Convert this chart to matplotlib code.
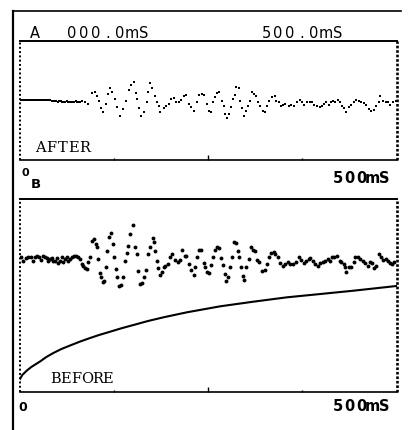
import numpy as np
import matplotlib.pyplot as plt
from matplotlib.lines import Line2D

W, H = 409, 431

# trace A (after): offset from baseline, time in ms
after_flat_t = np.arange(0, 81, 2)
after_flat_v = [1.5, 1.5, 1.5, 1.5, 1.5, 1.3, 1.3, 1.3, 1.3, 1.3, 1.3,
                1.0, 1.0, 1.0, 1.0, 1.0, 1.0, 1.0, 0.8, 0.8, 0.8, 0.5,
                0.5, 0.3, 0.0, -0.5, -0.3, 0.0, -0.5, -0.8, -0.5, -0.3,
                -0.5, -0.8, -1.0, -0.8, -0.5, -0.3, -0.5, -0.8, -0.5]
after_t = [82, 86.4, 90.8, 95.3, 99.7, 102.8, 105.5, 107.3, 110.8, 114.4,
           117.4, 119.7, 122.7, 126.3, 129.4, 133, 137.4, 141, 144.5, 147.6,
           151.6, 154, 156, 158, 160.5, 165, 168.5, 170.6, 172.5, 175.5,
           179.5, 181.8, 184, 186, 190.6, 193.7, 197.3, 200.8, 203.9, 207,
           210.5, 214, 217.2, 220.3, 223.9, 227, 230.5, 235, 238, 241.6,
           245, 247.8, 250.5, 253, 255.7, 258.4, 261, 264.6, 268.2, 270.9,
           272.6, 275.3, 278, 280.6, 282.8, 285, 287.2, 290.3, 292.6, 294.8,
           297.5, 300.1, 302.8, 305.4, 308.1, 311.2, 313.8, 316.5, 319.1, 322.2,
           324.9, 328, 331.1, 334.7, 338.2, 340.4, 343.5, 346.7, 349.3, 352.4,
           356.8, 360, 364.4, 368, 371.4, 374.6, 377.7, 381.2, 384.7, 387.9,
           391, 394.5, 398, 401.2, 403.3, 406.9, 410, 413.2, 415.8, 418.9,
           422, 425.5, 427.8, 430.9, 433.5, 436.6, 439.8, 443.3, 446.8, 449.9,
           453.1, 456.5, 460.1, 463.2, 466.4, 469.8, 473.4, 476.5, 478.7, 482.3,
           485.4, 488.4, 492, 495.6, 498.7]
after_v = [0.3, -1.3, -3, 8, 8.7, 5.3, 0.3, -7.3, -10.7, -3,
           7, 12.7, 9.3, 2, -6.3, -14.7, -8, 0.3, 11.3, 16,
           19.3, 8, 2, -7.3, -14.7, -10.7, -1.3, 8.7, 18, 12.7,
           5.3, -0.7, -5.3, -10.7, -7.3, -5.3, -3, 2, 2.7, -1.3,
           -1.3, 1.3, 5.3, 6, -3, -6.3, -9.7, -0.7, 6, 7,
           6, -3, -9.7, -10.7, -1.3, 3.7, 8, 8.7, 0.3, -5.3,
           -13, -17.3, -13, -6.3, 2, 6, 13.7, 12.7, 0.3, -7.3,
           -14.7, -9.7, -4.7, 0.3, 8.7, 7, 5.3, -1.3, -4.7, -9.7,
           -10.7, -4.7, 0.3, 3.7, 5.3, 0.3, -1.3, -5.3, -4, -3,
           -4.7, -4, -5.3, -1.3, 1.3, -1.3, -4, -1.3, -0.7, -1.3,
           -4, -4.7, -6.3, -4.7, -3, -1.3, -4, -1.3, 0.3, -0.7,
           1.3, -1.3, -4.7, -7.3, -10.7, -6.3, -4, -1.3, 1.3, 0.3,
           -1.3, -2, -4, -8, -9.7, -8.7, -4.7, -0.7, 5.3, 0.3,
           -1.3, -1.3, -4, -1.3, 0.3]

# trace B (before): sampled record
before_t = [1.3, 4.4, 8, 11, 14.2, 16.8, 20, 22.2, 25.7, 27.5,
            30.2, 33.2, 35.5, 37.6, 39.9, 42.2, 44.3, 46.5, 48.8, 50.9,
            53.2, 55.5, 57.6, 59.8, 62.1, 64.2, 66.5, 68.8, 71.8, 74.5,
            77.5, 79.8, 82, 84.2, 86.4, 88.7, 90.8, 93.1, 95.3, 98.4,
            101.1, 102.8, 104.1, 106.4, 108.1, 110, 111.7, 114.4, 116.1, 118.8,
            120.6, 123.3, 125, 127.7, 129.4, 132.1, 133.9, 136.6, 139.6, 141.9,
            144, 146.3, 149.9, 152.9, 155.2, 157.3, 159.6, 161.8, 164.9, 167.6,
            170.6, 172.9, 176, 177.3, 179.5, 181.8, 183.9, 186.2, 188.4, 190.6,
            192.8, 196.4, 199.5, 202.5, 206.1, 209.7, 212.8, 215.8, 218.5, 220.3,
            223.8, 227.4, 230.5, 232.7, 235, 237.1, 240.7, 243.8, 246, 248.3,
            251.3, 254, 255.7, 258.4, 261.5, 264.6, 267.3, 269, 271.7, 273.6,
            276.2, 279.3, 281.5, 283.7, 286.8, 289.5, 291.2, 293.9, 295.6, 297,
            300.1, 303.6, 307.2, 309, 311.6, 314.8, 317.8, 321.4, 324.9, 328,
            330.2, 333.8, 336.8, 339, 342.2, 345.7, 349.3, 352.4, 355.5, 359,
            362.6, 367, 370.1, 373.3, 376.7, 380.3, 383.4, 385.6, 389.2, 392.3,
            395.4, 398.9, 402.5, 405.6, 408.6, 411.3, 414.5, 417.5, 421.1, 424.6,
            426.5, 429.9, 432.2, 433.5, 436.6, 439.8, 443.2, 445.5, 448.5, 452.1,
            455.7, 458.8, 461.8, 464.5, 467.7, 470.7, 473.4, 476.5, 479.7, 482.3,
            485.4, 488.4, 491.1, 494.3, 497.3]
before_v = [0.7, -2.7, 0, 0.7, 0.7, -2.7, 1.3, 2.3, 0.7, -2,
            2.3, 1.3, 0, -2.7, -1, 0, -3.3, -2.7, 0, -5.3,
            -2.7, 0.7, -4.3, -1, 1.3, -2.7, -1, 0.7, 2.3, 2.3,
            1.3, -1, -6, -7.7, -10, -11, -4.3, 0.7, 17.3, 19,
            14, 10.7, -1, -15.3, -19.3, -24.3, -22.7, -8.7, 6.7, 20.7,
            24.7, 14, 1.3, -11, -19.3, -27.7, -26.7, -19.3, -2.7, 4.7,
            12.3, 24, 33, 10.7, 4, -12.7, -26, -25.3, -19.3, -12,
            4, 10.7, 20, 15.7, 6.7, -2.7, -10, -16.7, -14.3, -9.3,
            -7.7, -6, 0.7, 4, -2, -4.3, -2, 8, 2.3, 2.3,
            -6, -12, -16.7, -8.7, 1.3, 8, 8, -5.3, -9.3, -14.3,
            -15.3, -6.7, 1.3, 8, 10.7, 10, 0, -6.7, -16, -22.7,
            -19.3, -9.3, 1.3, 15.7, 14.7, 7.3, 0.7, -9.3, -17.7, -22,
            -9.3, -1, 10.7, 8, 6.7, -2, -4.3, -13.3, -12, -6,
            0.7, 4.7, 5.7, 4, 0.7, -5.3, -7.7, -6, -4.3, -6,
            -6, -4.3, 0.7, -2, -5.3, -2.7, -1, 0, -2.7, -6,
            -7.7, -5.3, -4.3, -2.7, -1, -2.7, 1.3, 0.7, 2.3, -2.7,
            -4.3, -6, -9.3, -14.3, -8.7, -8.7, -4.3, 0.7, 1.3, -1,
            -2.7, -5.3, -7.7, -4.3, -5.3, -10, -7.7, 4, 0.7, -2,
            -1, -2.7, -5.3, -6, -4.3]

# slow drift recorded on channel B
drift_t = [0, 3, 8.9, 15, 26.6, 35, 44.3, 55, 66.5, 80, 93.1, 105,
           119.7, 135, 150.7, 170, 190.6, 221.7, 266, 309.8, 354.7, 399,
           442.8, 500]
drift_v = [-121, -117, -112.7, -109, -103.5, -99, -95, -91, -87.5, -83.5,
           -80, -77, -73.7, -70.2, -67, -63, -59.3, -54.3, -48.3, -43.7,
           -39.3, -36, -32.7, -28]

fig = plt.figure(figsize=(W / 100, H / 100), dpi=100)


def box(left, top, right, bottom):
    return [left / W, 1 - bottom / H, (right - left) / W, (bottom - top) / H]


def printed(x, y, s, pitch, **kw):
    # fixed-pitch characters, one cell each
    for i, ch in enumerate(s):
        fig.text((x + i * pitch) / W, 1 - y / H, ch, ha='center',
                 va='baseline', color='black', **kw)


def style(ax, ylim):
    ax.set_xlim(0, 500)
    ax.set_ylim(*ylim)
    ax.set_yticks([])
    ax.set_xticks([250])
    ax.set_xticks([125, 375], minor=True)
    ax.tick_params(axis='x', which='both', direction='in', labelbottom=False,
                   width=1.0)
    ax.tick_params(axis='x', which='major', length=3.5)
    ax.tick_params(axis='x', which='minor', length=1.5)
    ax.spines['top'].set_linewidth(1.4)
    ax.spines['bottom'].set_linewidth(1.2)
    ax.spines['left'].set_visible(False)
    ax.spines['right'].set_visible(False)
    # dotted side borders
    ax.axvline(0, color='black', lw=1.4, ls=(0, (1, 1.2)), clip_on=False)
    ax.axvline(500, color='black', lw=1.9, ls=(0, (1, 0.7)), clip_on=False)


ax_a = fig.add_axes(box(20, 41.5, 396.5, 161))
ax_a.plot(after_flat_t, after_flat_v, ls='none', marker='s', ms=1.6,
          mew=0, color='black')
ax_a.plot(after_t, after_v, ls='none', marker='s', ms=2.0, mew=0,
          color='black')
style(ax_a, (-59, 60.5))

ax_b = fig.add_axes(box(20, 200.5, 396.5, 393))
ax_b.plot(before_t, before_v, ls='none', marker='o', ms=2.8, mew=0,
          color='black')
ax_b.plot(drift_t, drift_v, lw=1.5, color='black')
style(ax_b, (-134, 58.5))

# outer frame of the printout
fig.add_artist(Line2D([13 / W, 13 / W], [1 - 11.5 / H, 0], lw=1.6,
                      color='black', transform=fig.transFigure))
fig.add_artist(Line2D([13 / W, 401 / W], [1 - 11.5 / H, 1 - 11.5 / H],
                      lw=1.2, color='black', transform=fig.transFigure))

# header and labels
printed(35, 38.5, 'A', 12, size=10.5)
printed(72, 38.5, '000.0mS', 12, size=10.5)
printed(266, 38.5, '500.0mS', 11.9, size=10.5)

printed(40.5, 152, 'AFTER', 11, family='DejaVu Serif', size=10.5)
printed(55.3, 383.5, 'BEFORE', 10.5, family='DejaVu Serif', size=10.5)

printed(25, 176.5, '0', 10, size=8, weight='bold')
printed(36, 188, 'B', 10, size=9.5, weight='bold')
printed(338, 183.5, '500mS', 11.6, size=10.5, weight='bold')

printed(22.5, 411.5, '0', 10, size=9, weight='bold')
printed(338, 411.5, '500mS', 11.6, size=10.5, weight='bold')

fig.savefig('out.png', dpi=100)
